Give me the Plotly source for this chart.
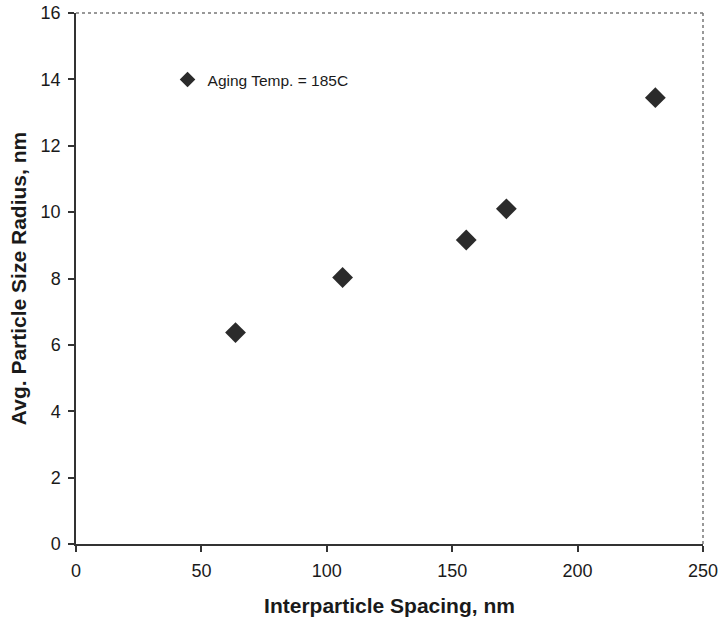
import plotly.graph_objects as go

spacing_nm = [63.6, 106.3, 155.6, 171.6, 231.0]
radius_nm = [6.37, 8.03, 9.16, 10.10, 13.45]
series_name = "Aging Temp. = 185C"
x_ticks = [0, 50, 100, 150, 200, 250]
y_ticks = [0, 2, 4, 6, 8, 10, 12, 14, 16]

FONT = "Liberation Sans, Arial, sans-serif"

fig = go.Figure()
fig.add_trace(go.Scatter(
    x=spacing_nm, y=radius_nm, mode="markers", name=series_name,
    marker=dict(symbol="diamond", size=16, color="#2b2b2b"),
    showlegend=True,
))

axis_font = dict(family=FONT, size=18, color="#1a1a1a")
title_font = dict(family=FONT, size=21, color="#1a1a1a")

fig.update_layout(
    width=719, height=617,
    margin=dict(l=76, r=16, t=13, b=73, autoexpand=False),
    paper_bgcolor="white", plot_bgcolor="white",
    showlegend=True,
    legend=dict(x=0.146, y=0.874, xanchor="left", yanchor="middle",
                bgcolor="rgba(0,0,0,0)", itemsizing="constant",
                font=dict(family=FONT, size=15.5, color="#1a1a1a"),
                itemwidth=30, tracegroupgap=0),
    xaxis=dict(range=[0, 250], tickvals=x_ticks, showgrid=False, zeroline=False,
               showline=True, linecolor="#333", linewidth=1.5, automargin=False,
               ticks="outside", ticklen=6, tickcolor="#333", tickwidth=1.5,
               ticklabelstandoff=4, tickfont=axis_font,
               title=dict(text="<b>Interparticle Spacing, nm</b>", font=title_font, standoff=28)),
    yaxis=dict(range=[0, 16], tickvals=y_ticks, showgrid=False, zeroline=False,
               showline=True, linecolor="#333", linewidth=1.5, automargin=False,
               ticks="outside", ticklen=6, tickcolor="#333", tickwidth=1.5,
               ticklabelstandoff=4, tickfont=axis_font,
               title=dict(text="<b>Avg. Particle Size Radius, nm</b>", font=title_font, standoff=8)),
)

# dotted top and right frame
fig.add_shape(type="line", xref="paper", yref="paper", x0=0, x1=1, y0=1, y1=1,
              line=dict(color="#777", width=1.5, dash="dot"))
fig.add_shape(type="line", xref="paper", yref="paper", x0=1, x1=1, y0=0, y1=1,
              line=dict(color="#777", width=1.5, dash="dot"))

# remove the default page margin so the figure fills the 719x617 window exactly
fig.write_html(
    "out.html",
    config={"displayModeBar": False},
    post_script="document.body.style.margin='0';document.documentElement.style.overflow='hidden';",
)
